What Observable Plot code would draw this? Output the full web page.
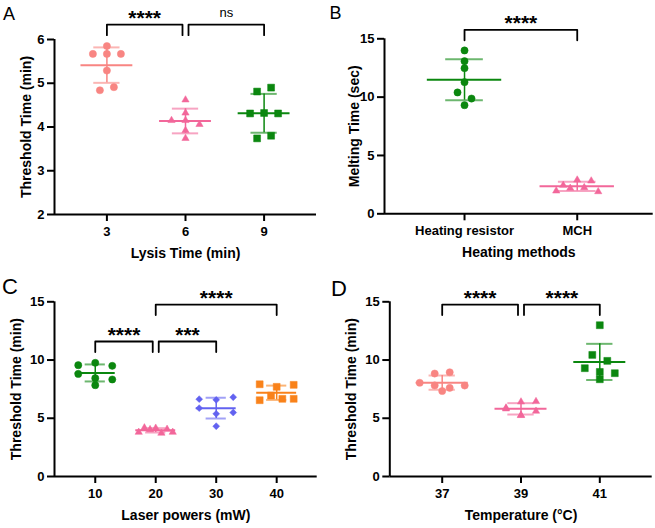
<!DOCTYPE html>
<html><head><meta charset="utf-8">
<script src="https://cdn.jsdelivr.net/npm/d3@7"></script>
<script src="https://cdn.jsdelivr.net/npm/@observablehq/plot@0.6"></script>
<style>
body{margin:0;background:#fff;}
#fig{position:relative;width:655px;height:528px;font-family:"Liberation Sans",Arial,sans-serif;}
.panel{position:absolute;}
#letters{position:absolute;left:0;top:0;pointer-events:none;}
g[aria-label="stars"] text{letter-spacing:1.5px;}
g[aria-label$="axis tick"]{stroke-width:2px;}
</style></head><body><div id="fig"></div>
<script>
// ---------- colours ----------
const coral = "#F88582", pink = "#F2679A", green = "#0B870F", blue = "#6262F0", orange = "#F9821A";

// ---------- Panel A: lysis time ----------
const lysisTimes = [3, 6, 9];
const lysis3 = [5.85, 5.67, 5.67, 5.67, 5.29, 4.84, 4.91];
const lysis6 = [4.62, 4.32, 4.15, 4.15, 4.06, 3.92, 3.74];
const lysis9 = [4.81, 4.90, 4.31, 4.32, 4.31, 3.74, 3.80];
const lysisComparisons = [
  {from: 3, to: 6, label: "****", level: 6.34},
  {from: 6, to: 9, label: "ns", level: 6.34}
];

// ---------- Panel B: heating methods ----------
const heatingMethods = ["Heating resistor", "MCH"];
const heatingResistor = [14.0, 13.08, 12.48, 11.28, 10.40, 9.88, 9.31];
const heatingMCH = [2.45, 2.90, 2.82, 1.96, 2.19, 2.25, 1.90];
const heatingComparisons = [
  {from: 0, to: 1, label: "****", level: 15.77}
];

// ---------- Panel C: laser powers ----------
const laserPowers = [10, 20, 30, 40];
const laser10 = [9.56, 9.76, 9.50, 8.81, 8.44, 8.33, 7.84];
const laser20 = [3.80, 4.18, 4.03, 4.15, 3.72, 4.06, 3.80];
const laser30 = [6.64, 6.58, 6.81, 5.87, 5.38, 5.49, 4.32];
const laser40 = [7.92, 7.70, 7.87, 6.55, 6.95, 6.67, 6.67];
const laserComparisons = [
  {from: 10, to: 20, label: "****", level: 11.59},
  {from: 20, to: 30, label: "***", level: 11.59},
  {from: 20, to: 40, label: "****", level: 14.76}
];

// ---------- Panel D: temperature ----------
const temperatures = [37, 39, 41];
const temp37 = [8.84, 8.95, 8.05, 7.82, 7.61, 7.81, 7.34];
const temp39 = [5.89, 6.41, 6.44, 5.81, 5.26, 5.61, 5.24];
const temp41 = [12.99, 10.44, 9.93, 9.30, 8.98, 8.87, 8.35];
const tempComparisons = [
  {from: 37, to: 39, label: "****", level: 14.76},
  {from: 39, to: 41, label: "****", level: 14.76}
];

// ---------- helpers ----------
function swarm(values, toPx, rowH, slot, maxHalf) {
  const idx = values.map((v, i) => i).sort((a, b) => toPx(values[a]) - toPx(values[b]) || a - b);
  const off = new Array(values.length).fill(0);
  let i = 0;
  while (i < idx.length) {
    const start = toPx(values[idx[i]]);
    let j = i;
    while (j < idx.length && toPx(values[idx[j]]) - start < rowH) j++;
    const row = idx.slice(i, j).sort((a, b) => a - b);
    const n = row.length;
    const sp = n > 1 ? Math.min(slot, 2 * maxHalf / (n - 1)) : 0;
    row.forEach((k, r) => off[k] = (r - (n - 1) / 2) * sp);
    i = j;
  }
  return off;
}

const intFmt = d => String(Math.round(d));

function panel(cfg) {
  const {width, height, ml, mr, mt, mb, xDomain, yDomain, yTicks, xTicks, xTickFormat,
         groups, comps, step, slot, maxHalf, xTitle, yTitle, yTitleDx} = cfg;
  const pxX = (width - ml - mr) / (xDomain[1] - xDomain[0]);
  const pxY = (height - mt - mb) / (yDomain[1] - yDomain[0]);
  const points = [], summary = [], caps = [];
  for (const g of groups) {
    const off = swarm(g.values, v => (yDomain[1] - v) * pxY, 6.5, slot, maxHalf);
    g.values.forEach((v, i) => points.push({x: g.x + off[i] / pxX, y: v, g}));
    const mean = d3.mean(g.values), sd = d3.deviation(g.values);
    summary.push({x: g.x, mean, lo: mean - sd, hi: mean + sd, color: g.color});
    caps.push({x: g.x, y: mean - sd, color: g.color}, {x: g.x, y: mean + sd, color: g.color});
  }
  const mw = 0.33 * step, cw = 0.167 * step;
  const drop = 10.5 / pxY, gap = 3 / pxX;
  const shared = (c, v) => comps.some(o => o !== c && o.level === c.level && (o.from === v || o.to === v));
  const br = comps.map((c, k) => {
    const x1 = c.from + (shared(c, c.from) ? gap : 0);
    const x2 = c.to - (shared(c, c.to) ? gap : 0);
    return {k, x1, x2, mid: (x1 + x2) / 2, level: c.level, label: c.label};
  });
  const bracketPts = br.flatMap(b => [
    {k: b.k, x: b.x1, y: b.level - drop}, {k: b.k, x: b.x1, y: b.level},
    {k: b.k, x: b.x2, y: b.level}, {k: b.k, x: b.x2, y: b.level - drop}]);
  return Plot.plot({
    width, height, marginLeft: ml, marginRight: mr, marginTop: mt, marginBottom: mb,
    style: {fontFamily: '"Liberation Sans", Arial, sans-serif', fontSize: "13px", fontWeight: "bold", color: "#000", background: "transparent", overflow: "visible"},
    color: {type: "identity"},
    x: {domain: xDomain, ticks: xTicks, tickFormat: xTickFormat || intFmt, tickSize: 7, tickPadding: 5, label: null},
    y: {domain: yDomain, ticks: yTicks, tickFormat: intFmt, tickSize: 7, tickPadding: 3, label: null},
    marks: [
      Plot.ruleY([yDomain[0]], {stroke: "#000", strokeWidth: 2}),
      Plot.ruleX([xDomain[0]], {stroke: "#000", strokeWidth: 2}),
      Plot.ruleY(caps, {y: "y", x1: d => d.x - cw, x2: d => d.x + cw, stroke: "color", strokeWidth: 2, strokeOpacity: 0.6}),
      Plot.ruleX(summary, {x: "x", y1: "lo", y2: "hi", stroke: "color", strokeWidth: 1.5}),
      Plot.ruleY(summary, {y: "mean", x1: d => d.x - mw, x2: d => d.x + mw, stroke: "color", strokeWidth: 2}),
      ...groups.map(g => Plot.dot(points.filter(p => p.g === g), {
        x: "x", y: "y", symbol: g.symbol, r: g.r, fill: g.color, stroke: g.color, strokeWidth: 0.5})),
      Plot.line(bracketPts, {x: "x", y: "y", z: "k", stroke: "#000", strokeWidth: 1.8}),
      Plot.text(br.filter(b => b.label !== "ns"), {x: "mid", y: "level", text: "label", lineAnchor: "bottom", dy: 0, fontSize: 21, fontWeight: "bold", ariaLabel: "stars"}),
      Plot.text(br.filter(b => b.label === "ns"), {x: "mid", y: "level", text: "label", lineAnchor: "bottom", dy: -7.6, fontSize: 13, fontWeight: "normal"}),
      Plot.text([xTitle], {text: d => d, frameAnchor: "bottom", textAnchor: "middle", lineAnchor: "middle", dy: 39, fontSize: 14, fontWeight: "bold"}),
      Plot.text([yTitle], {text: d => d, frameAnchor: "left", textAnchor: "middle", lineAnchor: "middle", rotate: -90, dx: yTitleDx, fontSize: 14, fontWeight: "bold"})
    ]
  });
}

const fig = document.getElementById("fig");
function place(svg, left, top) {
  const d = document.createElement("div");
  d.className = "panel"; d.style.left = left + "px"; d.style.top = top + "px";
  d.appendChild(svg); fig.appendChild(d);
}

place(panel({
  width: 327, height: 264, ml: 54, mr: 11, mt: 39, mb: 50,
  xDomain: [1, 11], yDomain: [2, 6], yTicks: [2, 3, 4, 5, 6], xTicks: lysisTimes,
  groups: [
    {x: lysisTimes[0], values: lysis3, color: coral, symbol: "circle", r: 3.6},
    {x: lysisTimes[1], values: lysis6, color: pink, symbol: "triangle", r: 2.7},
    {x: lysisTimes[2], values: lysis9, color: green, symbol: "square", r: 3.9}
  ],
  comps: lysisComparisons, step: 3, slot: 14, maxHalf: 28,
  xTitle: "Lysis Time (min)", yTitle: "Threshold Time (min)", yTitleDx: -28
}), 0, 0);

place(panel({
  width: 328, height: 264, ml: 57, mr: 2.3, mt: 38.3, mb: 50.7,
  xDomain: [-0.71, 1.674], yDomain: [0, 15], yTicks: [0, 5, 10, 15], xTicks: [0, 1],
  xTickFormat: i => heatingMethods[i],
  groups: [
    {x: 0, values: heatingResistor, color: green, symbol: "circle", r: 3.6},
    {x: 1, values: heatingMCH, color: pink, symbol: "triangle", r: 2.7}
  ],
  comps: heatingComparisons, step: 1, slot: 14, maxHalf: 28,
  xTitle: "Heating methods", yTitle: "Melting Time (sec)", yTitleDx: -30
}), 327, 0);

place(panel({
  width: 327, height: 264, ml: 54, mr: 10.3, mt: 37.3, mb: 52,
  xDomain: [3.26, 46.7], yDomain: [0, 15], yTicks: [0, 5, 10, 15], xTicks: laserPowers,
  groups: [
    {x: laserPowers[0], values: laser10, color: green, symbol: "circle", r: 3.6},
    {x: laserPowers[1], values: laser20, color: pink, symbol: "triangle", r: 2.7},
    {x: laserPowers[2], values: laser30, color: blue, symbol: "diamond2", r: 3.1},
    {x: laserPowers[3], values: laser40, color: orange, symbol: "square", r: 3.9}
  ],
  comps: laserComparisons, step: 10, slot: 17, maxHalf: 17,
  xTitle: "Laser powers (mW)", yTitle: "Threshold Time (min)", yTitleDx: -38
}), 0, 264);

place(panel({
  width: 328, height: 264, ml: 62.3, mr: 3.3, mt: 37.3, mb: 52,
  xDomain: [35.67, 42.33], yDomain: [0, 15], yTicks: [0, 5, 10, 15], xTicks: temperatures,
  groups: [
    {x: temperatures[0], values: temp37, color: coral, symbol: "circle", r: 3.6},
    {x: temperatures[1], values: temp39, color: pink, symbol: "triangle", r: 2.7},
    {x: temperatures[2], values: temp41, color: green, symbol: "square", r: 3.9}
  ],
  comps: tempComparisons, step: 2, slot: 15, maxHalf: 23,
  xTitle: "Temperature (°C)", yTitle: "Threshold Time (min)", yTitleDx: -38.5
}), 327, 264);

// panel letters
const panelLetters = ["A", "B", "C", "D"];
const letterSvg = d3.select(fig).append("svg").attr("id", "letters").attr("width", 655).attr("height", 528);
letterSvg.selectAll("text").data(panelLetters).join("text")
  .attr("x", (d, i) => [3, 329.5, 2, 331][i])
  .attr("y", (d, i) => [19.6, 19.4, 294, 296][i])
  .attr("font-size", (d, i) => i < 2 ? 18 : 22)
  .attr("font-family", '"Liberation Sans", Arial, sans-serif')
  .attr("fill", "#000")
  .text(d => d);
</script></body></html>
